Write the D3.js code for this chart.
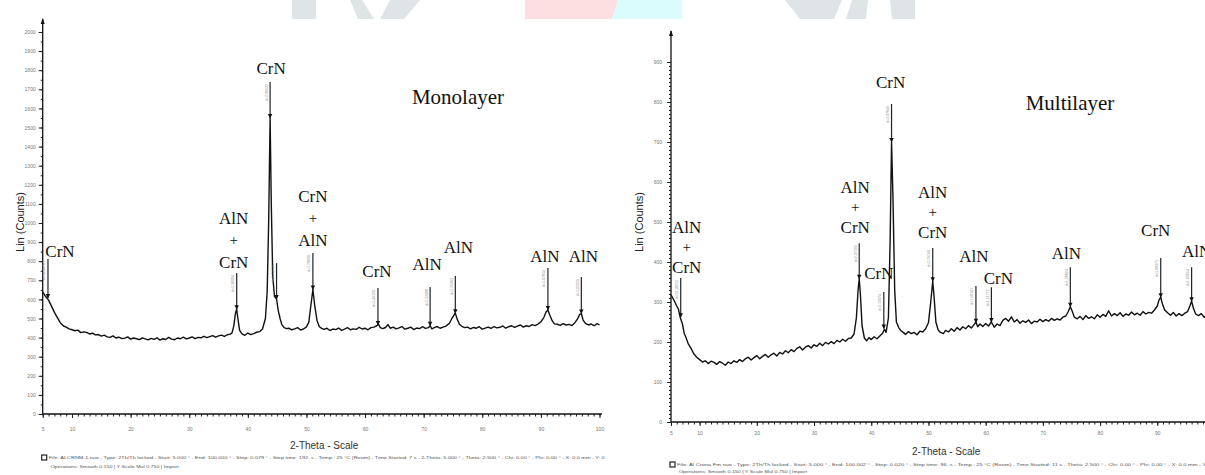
<!DOCTYPE html>
<html>
<head>
<meta charset="utf-8">
<script src="https://cdn.jsdelivr.net/npm/d3@7/dist/d3.min.js"></script>
<style>
  html, body { margin: 0; padding: 0; background: #fff; }
  svg { display: block; }
</style>
</head>
<body>
<svg id="chart" width="1205" height="475"></svg>
<script>
// mono layer trace, [2-theta, counts]
var monoTrace = [
  [5,640],[5.5,615],[6,596],[6.5,565],[7,532],[7.5,505],[8,478],[8.5,462],[9,455],[9.5,446],
  [10,441],[10.5,436],[11,439],[11.5,426],[12,430],[12.5,427],[13,419],[13.5,423],[14,414],[14.5,416],
  [15,408],[15.5,413],[16,404],[16.5,401],[17,409],[17.5,398],[18,402],[18.5,395],[19,397],[19.5,404],
  [20,392],[20.5,398],[21,394],[21.5,389],[22,399],[22.5,393],[23,388],[23.5,396],[24,391],[24.5,399],
  [25,387],[25.5,394],[26,390],[26.5,401],[27,392],[27.5,389],[28,398],[28.5,394],[29,402],[29.5,393],
  [30,398],[30.5,404],[31,395],[31.5,401],[32,399],[32.5,407],[33,400],[33.5,405],[34,410],[34.5,402],
  [35,409],[35.5,413],[36,406],[36.5,415],[37,418],[37.3,425],[37.6,460],[37.9,530],[38.1,548],[38.3,500],
  [38.6,438],[39,420],[39.5,412],[40,424],[40.5,416],[41,421],[41.5,428],[42,431],[42.5,445],[43,500],
  [43.3,640],[43.55,1000],[43.8,1550],[44.0,1100],[44.25,720],[44.55,615],[44.9,602],[45.2,540],[45.5,500],[45.8,468],
  [46.2,452],[46.6,447],[47,449],[47.5,441],[48,446],[48.5,452],[49,440],[49.5,445],[50,456],[50.4,480],
  [50.8,580],[51.1,652],[51.4,570],[51.8,490],[52.2,457],[52.6,448],[53,443],[53.5,449],[54,437],[54.5,445],
  [55,442],[55.5,450],[56,438],[56.5,444],[57,452],[57.5,441],[58,446],[58.5,443],[59,454],[59.5,445],
  [60,449],[60.5,441],[61,452],[61.5,455],[62,462],[62.3,470],[62.6,452],[63,447],[63.5,453],[63.9,468],
  [64.3,449],[64.8,455],[65.3,446],[65.8,451],[66.3,458],[66.8,444],[67.3,449],[67.8,455],[68.3,442],[68.8,450],
  [69.3,447],[69.8,457],[70.3,448],[70.8,452],[71.1,462],[71.4,446],[71.8,452],[72.3,458],[72.8,449],[73.3,455],
  [73.8,460],[74.4,475],[74.9,505],[75.4,528],[75.7,498],[76.1,470],[76.5,459],[77,452],[77.5,455],[78,446],
  [78.5,453],[79,449],[79.5,457],[80,444],[80.5,450],[81,455],[81.5,448],[82,458],[82.5,451],[83,454],
  [83.5,461],[84,449],[84.5,457],[85,462],[85.5,453],[86,460],[86.5,466],[87,455],[87.5,462],[88,458],
  [88.5,468],[89,463],[89.5,471],[90,482],[90.5,505],[90.9,535],[91.2,545],[91.5,520],[91.9,490],[92.3,472],
  [92.8,470],[93.3,464],[93.8,473],[94.3,466],[94.8,469],[95.3,463],[95.8,478],[96.2,495],[96.6,520],[96.9,526],
  [97.2,492],[97.6,474],[98.1,466],[98.6,471],[99.1,462],[99.6,473],[100,467]
];

// multilayer trace, [2-theta, counts]
var multiTrace = [
  [5,318],[5.5,305],[6,290],[6.3,282],[6.6,262],[7,245],[7.3,222],[7.6,212],[8,196],[8.5,184],
  [9,170],[9.5,162],[10,156],[10.5,150],[11,153],[11.5,146],[12,152],[12.5,149],[13,144],[13.5,151],
  [14,147],[14.5,142],[15,150],[15.5,146],[16,153],[16.5,149],[17,156],[17.5,151],[18,158],[18.5,162],
  [19,155],[19.5,161],[20,166],[20.5,158],[21,164],[21.5,169],[22,162],[22.5,168],[23,172],[23.5,165],
  [24,174],[24.5,170],[25,178],[25.5,173],[26,181],[26.5,176],[27,184],[27.5,188],[28,180],[28.5,187],
  [29,191],[29.5,185],[30,193],[30.5,189],[31,197],[31.5,191],[32,199],[32.5,195],[33,201],[33.5,196],
  [34,204],[34.5,200],[35,207],[35.5,202],[36,209],[36.5,210],[37,220],[37.4,260],[37.7,330],[37.9,358],
  [38.1,320],[38.4,240],[38.8,210],[39.2,203],[39.6,211],[40,206],[40.5,213],[41,208],[41.5,215],[42,222],
  [42.3,232],[42.6,224],[43,260],[43.3,450],[43.55,700],[43.8,560],[44.1,330],[44.4,250],[44.8,236],[45.2,228],
  [45.6,224],[46,219],[46.5,226],[47,221],[47.5,224],[48,218],[48.5,227],[49,225],[49.5,233],[50,248],
  [50.4,300],[50.75,352],[51,310],[51.3,250],[51.7,230],[52.1,224],[52.6,221],[53,229],[53.5,225],[54,233],
  [54.5,227],[55,236],[55.5,230],[56,238],[56.5,233],[57,241],[57.5,235],[58,244],[58.3,250],[58.6,238],
  [59,245],[59.5,239],[60,246],[60.5,240],[61,250],[61.5,237],[62,245],[62.5,241],[63,254],[63.5,259],
  [64,252],[64.5,263],[65,250],[65.5,256],[66,247],[66.5,253],[67,249],[67.5,255],[68,246],[68.5,252],
  [69,250],[69.5,257],[70,251],[70.5,256],[71,252],[71.5,259],[72,254],[72.5,258],[73,255],[73.5,262],
  [74,265],[74.4,275],[74.8,288],[75.1,278],[75.5,262],[76,258],[76.5,264],[77,256],[77.5,266],[78,259],
  [78.5,263],[79,258],[79.5,268],[80,262],[80.5,269],[81,264],[81.5,278],[82,265],[82.5,271],[83,266],
  [83.5,273],[84,264],[84.5,270],[85,267],[85.5,275],[86,268],[86.5,272],[87,267],[87.5,276],[88,270],
  [88.5,274],[89,272],[89.5,280],[90,290],[90.3,305],[90.6,312],[90.9,295],[91.3,280],[91.8,273],[92.3,267],
  [92.8,274],[93.3,265],[93.8,271],[94.3,266],[94.8,272],[95.3,276],[95.7,290],[96,302],[96.3,285],[96.7,270],
  [97.2,266],[97.7,271],[98.2,262],[98.7,268],[99.2,261],[99.7,267],[100,263]
];

// phase markers: 2-theta, stick top and tip (counts), label lines
var monoPeaks = [
  {theta: 5.9,  top: 811,  tip: 607,  names: ["CrN"]},
  {theta: 38.1, top: 738,  tip: 548,  names: ["AlN", "+", "CrN"]},
  {theta: 43.8, top: 1738, tip: 1550, names: ["CrN"]},
  {theta: 44.9, top: 790,  tip: 602,  names: []},
  {theta: 51.1, top: 843,  tip: 652,  names: ["CrN", "+", "AlN"]},
  {theta: 62.2, top: 660,  tip: 466,  names: ["CrN"]},
  {theta: 71.1, top: 665,  tip: 462,  names: ["AlN"]},
  {theta: 75.4, top: 723,  tip: 528,  names: ["AlN"]},
  {theta: 91.2, top: 765,  tip: 545,  names: ["AlN"]},
  {theta: 96.9, top: 717,  tip: 526,  names: ["AlN"]}
];
var multiPeaks = [
  {theta: 6.7,   top: 360, tip: 262, names: ["AlN", "+", "CrN"]},
  {theta: 37.9,  top: 447, tip: 358, names: ["AlN", "+", "CrN"]},
  {theta: 42.2,  top: 325, tip: 234, names: ["CrN"]},
  {theta: 43.55, top: 795, tip: 700, names: ["CrN"]},
  {theta: 50.75, top: 435, tip: 352, names: ["AlN", "+", "CrN"]},
  {theta: 58.3,  top: 340, tip: 248, names: ["AlN"]},
  {theta: 61.0,  top: 337, tip: 250, names: ["CrN"]},
  {theta: 74.8,  top: 387, tip: 288, names: ["AlN"]},
  {theta: 90.6,  top: 410, tip: 312, names: ["CrN"]},
  {theta: 96.0,  top: 387, tip: 302, names: ["AlN"]}
];

var monoYTicks = d3.range(0, 2001, 100);
var multiYTicks = d3.range(0, 901, 100);
var xTickLabels = [5, 10, 20, 30, 40, 50, 60, 70, 80, 90, 100];

var monoFooter = [
  "File: ALCRNM-1.raw - Type: 2Th/Th locked - Start: 5.000 ° - End: 100.000 ° - Step: 0.079 ° - Step time: 192. s - Temp.: 25 °C (Room) - Time Started: 7 s - 2-Theta: 5.000 ° - Theta: 2.500 ° - Chi: 0.00 ° - Phi: 0.00 ° - X: 0.0 mm - Y: 0",
  "Operations: Smooth 0.150 | Y Scale Mul 0.750 | Import"
];
var multiFooter = [
  "File: Al Crona Fm.raw - Type: 2Th/Th locked - Start: 5.000 ° - End: 100.002 ° - Step: 0.020 ° - Step time: 96. s - Temp.: 25 °C (Room) - Time Started: 11 s - Theta: 2.500 ° - Chi: 0.00 ° - Phi: 0.00 ° - X: 0.0 mm - Y: 0.0",
  "Operations: Smooth 0.150 | Y Scale Mul 0.750 | Import"
];

var svg = d3.select("#chart");
var serif = "'Liberation Serif', 'Times New Roman', serif";
var sans = "'Liberation Sans', Arial, sans-serif";

// faint watermark pieces along the top edge
var wm = svg.append("g");
wm.append("polygon").attr("points", "292,0 316,0 316,19 292,19").attr("fill", "#dfe4e7");
wm.append("polygon").attr("points", "350,0 362,0 374,19 358,19").attr("fill", "#dfe4e7");
wm.append("polygon").attr("points", "390,0 420,0 404,19 380,19").attr("fill", "#dfe4e7");
wm.append("polygon").attr("points", "525,0 618,0 612,19 525,19").attr("fill", "#fddfe2");
wm.append("polygon").attr("points", "618,0 682,0 682,19 612,19").attr("fill", "#dafcfd");
wm.append("polygon").attr("points", "785,0 842,0 834,19 800,19").attr("fill", "#dfe4e7");
wm.append("polygon").attr("points", "852,0 868,0 866,19 846,19").attr("fill", "#dfe4e7");
wm.append("polygon").attr("points", "890,0 915,0 915,19 892,19").attr("fill", "#dfe4e7");

function drawPanel(cfg) {
  var x = cfg.x, y = cfg.y;
  var g = svg.append("g");

  // y axis: minor and major ticks, labels
  var yMinor = d3.range(0, cfg.yTicks[cfg.yTicks.length - 1] + 1, cfg.yMinorStep);
  g.append("g")
    .attr("transform", "translate(" + x.range()[0] + ",0)")
    .call(d3.axisLeft(y).tickValues(yMinor).tickSize(2).tickFormat(""))
    .call(function(a) { a.select(".domain").remove(); a.selectAll("line").attr("stroke", "#222"); });
  g.append("g")
    .attr("transform", "translate(" + x.range()[0] + ",0)")
    .call(d3.axisLeft(y).tickValues(cfg.yTicks).tickSize(4).tickPadding(cfg.yPad).tickFormat(d3.format("d")))
    .call(function(a) {
      a.select(".domain").remove();
      a.selectAll("line").attr("stroke", "#222");
      a.selectAll("text").attr("font-family", sans).attr("font-size", 5).attr("fill", "#777");
    });

  // x axis
  g.append("g")
    .attr("transform", "translate(0," + y(0) + ")")
    .call(d3.axisBottom(x).tickValues(d3.range(5, 101, 1)).tickSize(2.5).tickFormat(""))
    .call(function(a) { a.select(".domain").remove(); a.selectAll("line").attr("stroke", "#222"); });
  g.append("g")
    .attr("transform", "translate(0," + y(0) + ")")
    .call(d3.axisBottom(x).tickValues(xTickLabels).tickSize(4).tickPadding(cfg.xPad).tickFormat(d3.format("d")))
    .call(function(a) {
      a.select(".domain").remove();
      a.selectAll("line").attr("stroke", "#222");
      a.selectAll("text").attr("font-family", sans).attr("font-size", 5).attr("fill", "#777");
    });

  // axis lines and arrow
  var x0 = x.range()[0];
  g.append("line").attr("x1", x0).attr("x2", cfg.xEnd).attr("y1", y(0)).attr("y2", y(0))
    .attr("stroke", "#111").attr("stroke-width", 1.3);
  g.append("line").attr("x1", x0).attr("x2", x0).attr("y1", y(0)).attr("y2", cfg.arrowY)
    .attr("stroke", "#111").attr("stroke-width", 1.3);
  g.append("path")
    .attr("d", "M" + (x0 - 2) + "," + (cfg.arrowY + 5) + "L" + x0 + "," + (cfg.arrowY - 1) + "L" + (x0 + 2) + "," + (cfg.arrowY + 5) + "Z")
    .attr("fill", "#111");

  // axis titles
  g.append("text")
    .attr("transform", "translate(" + cfg.yTitleX + "," + cfg.yTitleY + ") rotate(-90)")
    .attr("text-anchor", "middle")
    .attr("font-family", sans).attr("font-size", 11).attr("fill", "#222")
    .text("Lin (Counts)");
  g.append("text")
    .attr("x", cfg.xTitleX).attr("y", cfg.xTitleY)
    .attr("font-family", sans).attr("font-size", 10).attr("fill", "#333")
    .text("2-Theta - Scale");

  // trace
  var line = d3.line().x(function(d) { return x(d[0]); }).y(function(d) { return y(d[1]); });
  g.append("path").datum(cfg.trace)
    .attr("d", line).attr("fill", "none")
    .attr("stroke", "#111").attr("stroke-width", 1.4).attr("stroke-linejoin", "round");

  // marker sticks
  var sticks = g.selectAll(".stick").data(cfg.peaks).enter().append("g");
  sticks.append("line")
    .attr("x1", function(d) { return x(d.theta); }).attr("x2", function(d) { return x(d.theta); })
    .attr("y1", function(d) { return y(d.top); }).attr("y2", function(d) { return y(d.tip); })
    .attr("stroke", "#222").attr("stroke-width", 1.2);
  sticks.append("path")
    .attr("d", function(d) {
      var px = x(d.theta), py = y(d.tip);
      return "M" + (px - 2.2) + "," + (py - 4) + "L" + (px + 2.2) + "," + (py - 4) + "L" + px + "," + (py + 0.5) + "Z";
    })
    .attr("fill", "#111");
  sticks.append("text")
    .attr("transform", function(d) { return "translate(" + (x(d.theta) - 2.5) + "," + (y(d.top) + 2) + ") rotate(-90)"; })
    .attr("text-anchor", "end")
    .attr("font-family", sans).attr("font-size", 3.6).attr("fill", "#888")
    .text(function(d) { return "d=" + (1.5406 / (2 * Math.sin(d.theta / 2 * Math.PI / 180))).toFixed(5); });

  // phase labels
  sticks.each(function(d, i) {
    var off = cfg.labelOffsets[i];
    var n = d.names.length;
    var cx = x(d.theta) + off[0];
    var lastY = y(d.top) - off[1];
    d3.select(this).selectAll(".lab").data(d.names).enter().append("text")
      .attr("x", cx)
      .attr("y", function(t, j) { return lastY - (n - 1 - j) * cfg.lineH; })
      .attr("dy", "0.35em")
      .attr("text-anchor", "middle")
      .attr("font-family", serif).attr("font-size", function(t) { return t === "+" ? 15 : 17; })
      .attr("fill", "#111")
      .text(function(t) { return t; });
  });

  // title
  g.append("text")
    .attr("x", cfg.titleX).attr("y", cfg.titleY).attr("dy", "0.35em")
    .attr("text-anchor", "middle")
    .attr("font-family", serif).attr("font-size", 21).attr("fill", "#111")
    .text(cfg.title);

  // footer lines
  g.append("rect").attr("x", x0 - 1).attr("y", cfg.footY - 4).attr("width", 5).attr("height", 5)
    .attr("fill", "#fff").attr("stroke", "#222").attr("stroke-width", 1.2);
  g.append("text").attr("x", x0 + 6).attr("y", cfg.footY)
    .attr("font-family", sans).attr("font-size", 4.4).attr("fill", "#555")
    .attr("textLength", cfg.footLen).attr("lengthAdjust", "spacingAndGlyphs")
    .text(cfg.footer[0]);
  g.append("text").attr("x", x0 + 8).attr("y", cfg.footY + cfg.footGap)
    .attr("font-family", sans).attr("font-size", 4.4).attr("fill", "#555")
    .attr("textLength", 128).attr("lengthAdjust", "spacingAndGlyphs")
    .text(cfg.footer[1]);
}

drawPanel({
  x: d3.scaleLinear().domain([5, 100]).range([42.7, 599.5]),
  y: d3.scaleLinear().domain([0, 2000]).range([414, 32]),
  xEnd: 602, arrowY: 19,
  yTicks: monoYTicks, yMinorStep: 50, yPad: 3, xPad: 9,
  yTitleX: 24, yTitleY: 222,
  xTitleX: 290, xTitleY: 449,
  trace: monoTrace, peaks: monoPeaks,
  labelOffsets: [[12, 8], [-3, 11], [1, 14], [0, 0], [0, 13], [-1, 17], [-3, 23], [3, 29], [-3, 12], [2, 21]],
  lineH: 22,
  title: "Monolayer", titleX: 458, titleY: 97,
  footer: monoFooter, footY: 459, footGap: 9, footLen: 556
});

drawPanel({
  x: d3.scaleLinear().domain([5, 100]).range([671, 1214.5]),
  y: d3.scaleLinear().domain([0, 1000]).range([422, 22]),
  xEnd: 1205, arrowY: 31,
  yTicks: multiYTicks, yMinorStep: 10, yPad: 5, xPad: 5,
  yTitleX: 643, yTitleY: 222,
  xTitleX: 912, xTitleY: 455,
  trace: multiTrace, peaks: multiPeaks,
  labelOffsets: [[6, 11], [-4, 16], [-5, 19], [-1, 22], [0, 16], [-2, 30], [7, 9], [-4, 14], [-5, 28], [5, 16]],
  lineH: 20,
  title: "Multilayer", titleX: 1070, titleY: 103,
  footer: multiFooter, footY: 466, footGap: 7, footLen: 540
});
</script>
</body>
</html>
